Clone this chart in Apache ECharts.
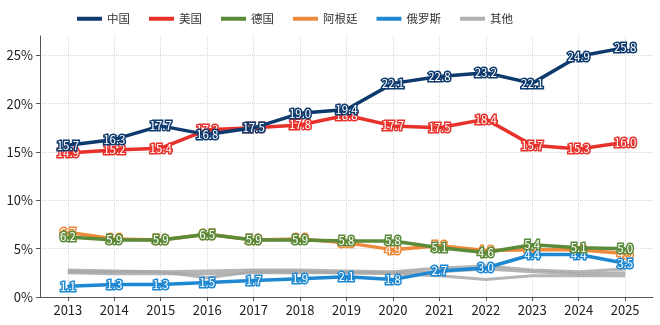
<!DOCTYPE html>
<html>
<head>
<meta charset="utf-8">
<script src="https://cdn.jsdelivr.net/npm/echarts@6/dist/echarts.min.js"></script>
<style>html,body{margin:0;padding:0;background:#fff;}#c{width:660px;height:325px;}</style>
</head>
<body>
<div id="c"></div>
<script>
const years = [2013, 2014, 2015, 2016, 2017, 2018, 2019, 2020, 2021, 2022, 2023, 2024, 2025];
const yTicks = [0, 5, 10, 15, 20, 25];
const china = [15.7, 16.3, 17.7, 16.8, 17.5, 19.0, 19.4, 22.1, 22.8, 23.2, 22.1, 24.9, 25.8];
const usa = [14.9, 15.2, 15.4, 17.3, 17.5, 17.8, 18.8, 17.7, 17.5, 18.4, 15.7, 15.3, 16.0];
const germany = [6.2, 5.9, 5.9, 6.5, 5.9, 5.9, 5.8, 5.8, 5.1, 4.6, 5.4, 5.1, 5.0];
const argentina = [6.7, 6.0, 5.9, 6.5, 5.9, 6.0, 5.6, 4.9, 5.3, 4.8, 4.9, 4.9, 4.5];
const russia = [1.1, 1.3, 1.3, 1.5, 1.7, 1.9, 2.1, 1.8, 2.7, 3.0, 4.4, 4.4, 3.5];
const otherA = [2.8, 2.7, 2.6, 2.7, 2.8, 2.8, 2.7, 2.6, 3.0, 3.2, 2.8, 2.6, 2.9];
const otherB = [2.6, 2.6, 2.6, 2.0, 2.6, 2.6, 2.5, 2.5, 2.6, 2.9, 2.6, 2.4, 2.5];
const otherC = [2.5, 2.4, 2.4, 2.4, 2.5, 2.5, 2.5, 2.4, 2.2, 1.8, 2.2, 2.2, 2.2];

const FONT = '"Noto Sans CJK SC", "Noto Sans", sans-serif';
const pair = arr => years.map((y, i) => [y, arr[i]]);

function labeled(name, data, color, z) {
  return {
    name, type: 'line', data: pair(data), z,
    symbol: 'circle', symbolSize: 2,
    itemStyle: { color },
    lineStyle: { color, width: 3.5 },
    label: {
      show: true, position: 'inside',
      formatter: p => p.value[1].toFixed(1),
      color: '#fff', fontSize: 11.5, fontFamily: FONT,
      textBorderColor: color, textBorderWidth: 3
    },
    emphasis: { disabled: true },
    animation: false
  };
}
function gray(data) {
  return {
    name: '其他', type: 'line', data: pair(data), z: 1,
    symbol: 'none',
    itemStyle: { color: '#b0b0b0' },
    lineStyle: { color: '#a8a8a8', width: 3, opacity: 0.85 },
    emphasis: { disabled: true },
    animation: false
  };
}

const chart = echarts.init(document.getElementById('c'), null, { renderer: 'canvas' });
chart.setOption({
  animation: false,
  textStyle: { fontFamily: FONT },
  legend: {
    top: 8, left: 72,
    icon: 'rect', itemWidth: 25, itemHeight: 4, itemGap: 19,
    textStyle: { fontSize: 11.5, color: '#333', fontFamily: FONT },
    data: ['中国', '美国', '德国', '阿根廷', '俄罗斯', '其他']
  },
  grid: { left: 40, right: 7, top: 36, bottom: 28 },
  xAxis: {
    type: 'value', min: 2012.4, max: 2025.6,
    axisLine: { show: true, lineStyle: { color: '#555', width: 1 } },
    axisTick: { show: true, customValues: years, length: 4, lineStyle: { color: '#555' } },
    axisLabel: { customValues: years, formatter: v => String(v), color: '#222', fontSize: 13, margin: 7, fontFamily: FONT },
    splitLine: { show: true, lineStyle: { color: '#d6d6d6', type: 'dotted' } }
  },
  yAxis: {
    type: 'value', min: 0, max: 27,
    axisLine: { show: true, lineStyle: { color: '#555', width: 1 } },
    axisTick: { show: true, customValues: yTicks, length: 4, lineStyle: { color: '#555' } },
    axisLabel: { customValues: yTicks, formatter: v => v + '%', color: '#222', fontSize: 13, margin: 7, fontFamily: FONT },
    splitLine: { show: true, lineStyle: { color: '#d6d6d6', type: 'dotted' } }
  },
  series: [
    gray(otherA), gray(otherB), gray(otherC),
    labeled('阿根廷', argentina, '#ee8a3c', 2),
    labeled('俄罗斯', russia, '#1f88d2', 3),
    labeled('德国', germany, '#5b8a38', 4),
    labeled('美国', usa, '#e8312a', 5),
    labeled('中国', china, '#0e3a6e', 6)
  ]
});
</script>
</body>
</html>
